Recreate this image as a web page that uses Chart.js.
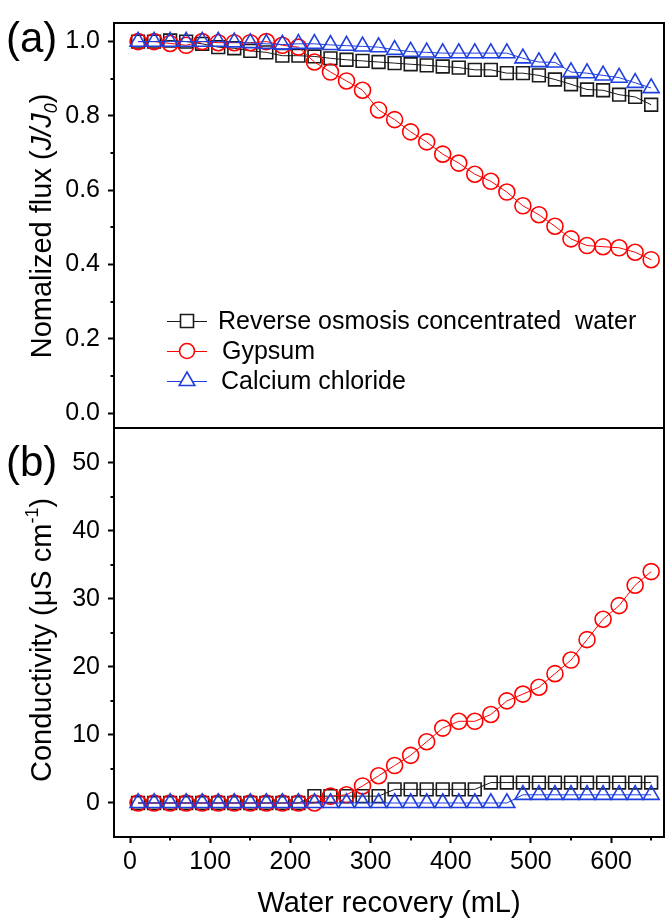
<!DOCTYPE html>
<html><head><meta charset="utf-8">
<script src="https://cdn.jsdelivr.net/npm/chart.js@4.4.1/dist/chart.umd.min.js"></script>
<style>
html,body{margin:0;padding:0;background:#fff;overflow:hidden;}
#wrap{position:relative;width:667px;height:924px;background:#fff;}
canvas{position:absolute;left:0;top:0;}
</style></head><body>
<div id="wrap"><canvas id="c2" width="667" height="924"></canvas><canvas id="c1" width="667" height="924"></canvas></div>
<script>
const FONT = "'Liberation Sans', Arial, Helvetica, sans-serif";

// ---- data ----
const waterRecovery = [10,30,50,70,90,110,130,150,170,190,210,230,250,270,290,310,330,350,370,390,410,430,450,470,490,510,530,550,570,590,610,630,650];

const fluxRO      = [1.0,1.0,1.003,1.0,0.994,0.985,0.982,0.975,0.971,0.962,0.962,0.96,0.955,0.951,0.948,0.945,0.942,0.939,0.936,0.933,0.93,0.924,0.924,0.915,0.915,0.909,0.898,0.885,0.871,0.869,0.857,0.851,0.83];
const fluxGypsum  = [1.0,1.0,0.995,0.99,1.0,0.997,0.997,0.997,1.0,0.99,0.985,0.945,0.918,0.894,0.869,0.816,0.79,0.757,0.73,0.697,0.673,0.643,0.624,0.595,0.558,0.534,0.503,0.469,0.451,0.448,0.445,0.433,0.413];
const fluxCaCl2   = [1.0,1.0,1.0,1.0,1.0,1.0,0.998,0.996,0.994,0.992,0.994,0.994,0.991,0.989,0.987,0.985,0.978,0.973,0.971,0.969,0.969,0.969,0.969,0.969,0.955,0.945,0.944,0.918,0.915,0.909,0.903,0.889,0.875];

const condRO      = [0,0,0,0,0,0,0,0,0,0,0,1,1,1,1,1,2,2,2,2,2,2,3,3,3,3,3,3,3,3,3,3,3];
const condGypsum  = [0,0,0,0,0,0,0,0,0,0,0,0,1,1.2,2.5,4,5.5,7,9,11,12,12,13,15,16,17,19,21,24,27,29,32,34];
const condCaCl2   = [0,0,0,0,0,0,0,0,0,0,0,0,0,0,0,0,0,0,0,0,0,0,0,0,1.2,1.2,1.2,1.2,1.2,1.2,1.2,1.2,1.2];

const seriesNames = ['Reverse osmosis concentrated  water', 'Gypsum', 'Calcium chloride'];

const xTicks      = [0,100,200,300,400,500,600];
const xMinor      = [50,150,250,350,450,550,650];
const fluxTicks   = [0,0.2,0.4,0.6,0.8,1.0];
const fluxMinor   = [0.1,0.3,0.5,0.7,0.9];
const condTicks   = [0,10,20,30,40,50];
const condMinor   = [5,15,25,35,45];

// ---- styles ----
const COL_RO = '#1a1a1a', COL_GY = '#ff0000', COL_CA = '#1f3fe0';

function mk(label, ys, color, style, r, order) {
  return {
    label, order,
    data: waterRecovery.map((x, i) => ({x, y: ys[i]})),
    borderColor: color, borderWidth: 1,
    backgroundColor: 'rgba(0,0,0,0)',
    pointStyle: style, pointRadius: r, pointHoverRadius: r,
    pointBorderColor: color, pointBackgroundColor: 'rgba(0,0,0,0)',
    pointBorderWidth: 1.6, tension: 0, fill: false, clip: false
  };
}

const minorTicksPlugin = {
  id: 'minorTicks',
  afterDraw(chart, args, opts) {
    const ctx = chart.ctx;
    ctx.save(); ctx.strokeStyle = '#000'; ctx.lineWidth = 2;
    (opts.list || []).forEach(({axis, values, len}) => {
      const s = chart.scales[axis];
      values.forEach(v => {
        const p = Math.round(s.getPixelForValue(v));
        ctx.beginPath();
        if (s.isHorizontal()) { ctx.moveTo(p, s.top); ctx.lineTo(p, s.top + len); }
        else { ctx.moveTo(s.right, p); ctx.lineTo(s.right - len, p); }
        ctx.stroke();
      });
    });
    ctx.restore();
  }
};

const framePlugin = {
  id: 'frame',
  afterDraw(chart) {
    const {ctx, chartArea: a} = chart;
    ctx.save(); ctx.strokeStyle = '#000'; ctx.lineWidth = 2;
    ctx.strokeRect(a.left, a.top, a.right - a.left, a.bottom - a.top);
    ctx.restore();
  }
};

function drawRich(ctx, segs, cx, cy, rot, size) {
  ctx.save(); ctx.translate(cx, cy); ctx.rotate(rot);
  let total = 0;
  const parts = segs.map(s => {
    const fs = (s.sub || s.sup) ? size * 0.62 : size;
    const f = (s.italic ? 'italic ' : '') + fs + 'px ' + FONT;
    ctx.font = f;
    const w = ctx.measureText(s.t).width;
    total += w;
    return {s, f, w};
  });
  let x = -total / 2;
  ctx.textBaseline = 'alphabetic'; ctx.textAlign = 'left'; ctx.fillStyle = '#000';
  const base = size * 0.36;
  parts.forEach(p => {
    ctx.font = p.f;
    let dy = base;
    if (p.s.sub) dy += size * 0.2;
    if (p.s.sup) dy -= size * 0.45;
    ctx.fillText(p.s.t, x, dy);
    x += p.w;
  });
  ctx.restore();
}

const textPlugin = {
  id: 'texts',
  afterDraw(chart, args, opts) {
    const ctx = chart.ctx;
    (opts.items || []).forEach(it => {
      if (it.rich) { drawRich(ctx, it.rich, it.x, it.y, it.rot || 0, it.size); return; }
      ctx.save();
      ctx.font = it.size + 'px ' + FONT; ctx.fillStyle = '#000';
      ctx.textAlign = 'left'; ctx.textBaseline = 'alphabetic';
      ctx.fillText(it.t, it.x, it.y);
      ctx.restore();
    });
    const lg = opts.legend;
    if (!lg) return;
    lg.rows.forEach(row => {
      const ds = chart.data.datasets[row.ds];
      const y = row.y;
      ctx.save();
      ctx.strokeStyle = ds.borderColor; ctx.lineWidth = 1;
      ctx.beginPath(); ctx.moveTo(lg.x1, y + 0.5); ctx.lineTo(lg.x2, y + 0.5); ctx.stroke();
      const cx = (lg.x1 + lg.x2) / 2;
      ctx.fillStyle = '#fff'; ctx.lineWidth = 1.6;
      ctx.beginPath();
      if (ds.pointStyle === 'rect') { const h = 6.5; ctx.rect(cx - h, y - h, 2*h, 2*h); }
      else if (ds.pointStyle === 'circle') { ctx.arc(cx, y, 7.5, 0, Math.PI*2); }
      else { const r = 9; ctx.moveTo(cx, y - r); ctx.lineTo(cx + r*0.866, y + r/2); ctx.lineTo(cx - r*0.866, y + r/2); ctx.closePath(); }
      ctx.fill(); ctx.stroke();
      ctx.font = lg.size + 'px ' + FONT; ctx.fillStyle = '#000';
      ctx.textBaseline = 'middle'; ctx.textAlign = 'left';
      ctx.fillText(seriesNames[row.ds], row.tx, y + 1);
      ctx.restore();
    });
  }
};

Chart.register(minorTicksPlugin, framePlugin, textPlugin);

const tickFont = {family: FONT, size: 25};
function yAxis(min, max, ticks, fmt) {
  return {
    type: 'linear', min, max,
    afterFit(s) { s.width = 114; },
    afterBuildTicks(s) { s.ticks = ticks.map(v => ({value: v})); },
    ticks: {callback: fmt, font: tickFont, color: '#000', padding: 8, autoSkip: false},
    grid: {drawOnChartArea: false, tickLength: 6, tickWidth: 2, tickColor: '#000'},
    border: {display: true, color: '#000', width: 2}
  };
}

// ---- top chart: normalized flux ----
new Chart(document.getElementById('c1'), {
  type: 'line',
  data: {datasets: [
    mk(seriesNames[0], fluxRO, COL_RO, 'rect', 9, 2),
    mk(seriesNames[1], fluxGypsum, COL_GY, 'circle', 8, 1),
    mk(seriesNames[2], fluxCaCl2, COL_CA, 'triangle', 9.2, 0)
  ]},
  options: {
    responsive: false, animation: false, devicePixelRatio: 1,
    layout: {autoPadding: false, padding: {left: 0, right: 3, top: 23, bottom: 496}},
    plugins: {
      legend: {display: false}, tooltip: {enabled: false},
      minorTicks: {list: [{axis: 'y', values: fluxMinor, len: 3.5}]},
      texts: {
        items: [
          {t: '(a)', x: 6, y: 52, size: 42},
          {rich: [{t: 'Nomalized flux ('}, {t: 'J/J', italic: true}, {t: '0', italic: true, sub: true}, {t: ')'}], x: 41, y: 226, rot: -Math.PI/2, size: 29}
        ],
        legend: {x1: 167, x2: 207, size: 25, rows: [
          {ds: 0, y: 321, tx: 218}, {ds: 1, y: 351, tx: 222}, {ds: 2, y: 381, tx: 221}
        ]}
      }
    },
    scales: {
      x: {type: 'linear', min: -20, max: 666, display: false},
      y: yAxis(-0.04, 1.05, fluxTicks, v => v.toFixed(1))
    }
  }
});

// ---- bottom chart: conductivity ----
new Chart(document.getElementById('c2'), {
  type: 'line',
  data: {datasets: [
    mk(seriesNames[0], condRO, COL_RO, 'rect', 9, 2),
    mk(seriesNames[1], condGypsum, COL_GY, 'circle', 8, 1),
    mk(seriesNames[2], condCaCl2, COL_CA, 'triangle', 9.2, 0)
  ]},
  options: {
    responsive: false, animation: false, devicePixelRatio: 1,
    layout: {autoPadding: false, padding: {left: 0, right: 3, top: 428, bottom: 0}},
    plugins: {
      legend: {display: false}, tooltip: {enabled: false},
      minorTicks: {list: [{axis: 'y', values: condMinor, len: 3.5}, {axis: 'x', values: xMinor, len: 3.5}]},
      texts: {
        items: [
          {t: '(b)', x: 6, y: 476, size: 42},
          {rich: [{t: 'Conductivity (μS cm'}, {t: '-1', sup: true}, {t: ')'}], x: 41, y: 640, rot: -Math.PI/2, size: 29}
        ]
      }
    },
    scales: {
      x: {
        type: 'linear', min: -20, max: 666,
        afterFit(s) { s.height = 87; },
        afterBuildTicks(s) { s.ticks = xTicks.map(v => ({value: v})); },
        ticks: {font: tickFont, color: '#000', padding: 4, autoSkip: false, maxRotation: 0},
        grid: {drawOnChartArea: false, tickLength: 6, tickWidth: 2, tickColor: '#000'},
        border: {display: true, color: '#000', width: 2},
        title: {display: true, text: 'Water recovery (mL)', color: '#000', font: {family: FONT, size: 29}, padding: {top: 0, bottom: 3}}
      },
      y: yAxis(-5, 55.1, condTicks, v => String(v))
    }
  }
});
</script>
</body></html>
